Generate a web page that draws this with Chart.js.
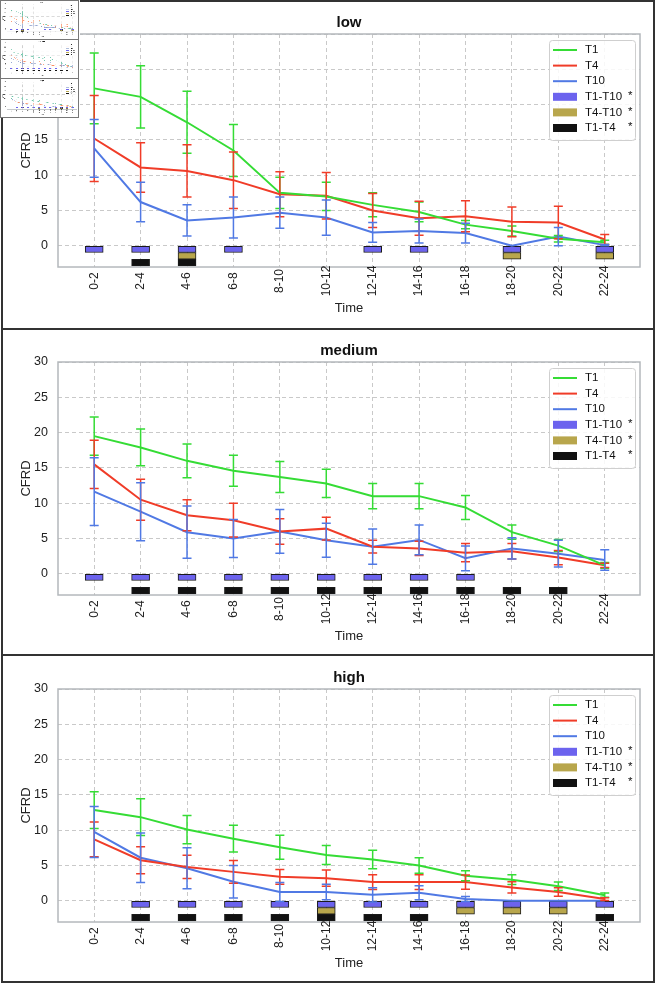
<!DOCTYPE html>
<html>
<head>
<meta charset="utf-8">
<script src="https://cdn.jsdelivr.net/npm/chart.js@4.4.1/dist/chart.umd.min.js"></script>
<style>
  body { margin: 0; background: #fff; }
  #fig { position: relative; width: 658px; height: 985px; overflow: hidden; }
  .frame { position: absolute; left: 1px; top: 0; width: 650px; height: 979px; border: 2px solid #333; }
  .rule { position: absolute; left: 1px; width: 654px; height: 2px; background: #333; }
  canvas.panel { position: absolute; left: 2px; }
  #thumb { position: absolute; left: 0; top: 0; }
  #hidden { position: absolute; left: -3000px; top: 0; }
</style>
</head>
<body>
<div id="fig">
  <canvas class="panel" id="c0" width="651" height="318" style="top:2px"></canvas>
  <canvas class="panel" id="c1" width="651" height="318" style="top:330px"></canvas>
  <canvas class="panel" id="c2" width="651" height="318" style="top:657px"></canvas>
  <div class="frame"></div>
  <div class="rule" style="top:328px"></div>
  <div class="rule" style="top:654px"></div>
  <canvas id="thumb" width="80" height="118"></canvas>
</div>
<div id="hidden">
  <canvas id="h0" width="651" height="318"></canvas>
  <canvas id="h1" width="651" height="318"></canvas>
  <canvas id="h2" width="651" height="318"></canvas>
</div>
<script>
// categories and ticks
var timeLabels = ['0-2', '2-4', '4-6', '6-8', '8-10', '10-12', '12-14', '14-16', '16-18', '18-20', '20-22', '22-24'];
var yTicks = [0, 5, 10, 15, 20, 25, 30];
var seriesNames = ['T1', 'T4', 'T10'];
var sigNames = ['T1-T10', 'T4-T10', 'T1-T4'];

// low
var lowT1 = [22.3, 21.1, 17.5, 13.5, 7.5, 7.0, 5.8, 4.8, 3.0, 2.1, 1.0, 0.5];
var lowT1Err = [5.0, 4.4, 4.4, 3.7, 2.2, 2.0, 1.7, 1.4, 0.6, 0.7, 0.45, 0.3];
var lowT4 = [15.2, 11.1, 10.6, 9.3, 7.3, 7.1, 5.0, 3.9, 4.2, 3.4, 3.3, 0.9];
var lowT4Err = [6.1, 3.5, 3.7, 4.0, 3.2, 3.3, 2.4, 2.4, 2.2, 2.1, 2.3, 0.7];
var lowT10 = [13.8, 6.2, 3.6, 4.0, 4.7, 4.0, 1.9, 2.1, 1.8, 0.0, 1.3, 0.1];
var lowT10Err = [4.1, 2.8, 2.2, 2.9, 2.2, 2.5, 1.4, 1.7, 1.4, 0, 1.3, 0.1];
var lowT1T10 = [1, 1, 1, 1, 0, 0, 1, 1, 0, 1, 0, 1];
var lowT4T10 = [0, 0, 1, 0, 0, 0, 0, 0, 0, 1, 0, 1];
var lowT1T4 = [0, 1, 1, 0, 0, 0, 0, 0, 0, 0, 0, 0];

// medium
var medT1 = [19.5, 17.9, 16.0, 14.6, 13.7, 12.8, 11.0, 11.0, 9.4, 5.9, 4.0, 1.2];
var medT1Err = [2.7, 2.6, 2.4, 2.2, 2.2, 2.0, 1.8, 1.8, 1.7, 1.0, 0.85, 0.4];
var medT4 = [15.5, 10.5, 8.3, 7.6, 6.0, 6.4, 3.85, 3.6, 3.0, 3.2, 2.3, 1.2];
var medT4Err = [3.4, 2.9, 2.2, 2.4, 1.8, 1.6, 0.9, 1.0, 1.3, 1.1, 1.0, 0.3];
var medT10 = [11.65, 8.8, 5.9, 5.0, 6.0, 4.75, 3.85, 4.8, 2.2, 3.6, 2.85, 1.95];
var medT10Err = [4.8, 4.1, 3.7, 2.7, 3.1, 2.4, 2.5, 2.1, 1.75, 1.5, 1.9, 1.45];
var medT1T10 = [1, 1, 1, 1, 1, 1, 1, 1, 1, 0, 0, 0];
var medT4T10 = [0, 0, 0, 0, 0, 0, 0, 0, 0, 0, 0, 0];
var medT1T4 = [0, 1, 1, 1, 1, 1, 1, 1, 1, 1, 1, 0];

// high
var highT1 = [12.85, 11.85, 10.1, 8.8, 7.6, 6.5, 5.85, 5.0, 3.55, 3.0, 2.05, 0.8];
var highT1Err = [2.6, 2.6, 2.0, 1.9, 1.7, 1.35, 1.3, 1.1, 0.7, 0.7, 0.6, 0.3];
var highT4 = [8.7, 5.75, 4.8, 4.1, 3.4, 3.2, 2.65, 2.65, 2.65, 1.9, 1.25, 0.25];
var highT4Err = [2.45, 1.9, 1.65, 1.6, 1.05, 1.15, 1.05, 1.05, 1.0, 0.8, 0.6, 0.2];
var highT10 = [9.75, 6.1, 4.6, 2.7, 1.25, 1.25, 0.85, 1.15, 0.25, 0, 0, 0];
var highT10Err = [3.6, 3.5, 2.9, 2.3, 1.35, 1.1, 1.0, 1.0, 0.35, 0, 0, 0];
var highT1T10 = [0, 1, 1, 1, 1, 1, 1, 1, 1, 1, 1, 1];
var highT4T10 = [0, 0, 0, 0, 0, 1, 0, 0, 1, 1, 1, 0];
var highT1T4 = [0, 1, 1, 1, 1, 1, 1, 1, 0, 0, 0, 1];

var lineColors = ['#35dc35', '#f03c28', '#5079e4'];
var thumbColors = ['#66c2a5', '#fc8d62', '#8da0cb'];
var sigColors = ['#6c63ee', '#b8a64c', '#111111'];
var markerRows = [[-0.95, 0], [-1.9, -0.95], [-2.85, -1.9]];

var panels = [
  { title: 'low', panelTop: 0, panelH: 329, canvasTop: 2,
    means: [lowT1, lowT4, lowT10], errs: [lowT1Err, lowT4Err, lowT10Err], flags: [lowT1T10, lowT4T10, lowT1T4] },
  { title: 'medium', panelTop: 329, panelH: 326, canvasTop: 330,
    means: [medT1, medT4, medT10], errs: [medT1Err, medT4Err, medT10Err], flags: [medT1T10, medT4T10, medT1T4] },
  { title: 'high', panelTop: 655, panelH: 330, canvasTop: 657,
    means: [highT1, highT4, highT10], errs: [highT1Err, highT4Err, highT10Err], flags: [highT1T10, highT4T10, highT1T4] }
];

var FONT = '"Liberation Sans", Arial, sans-serif';
Chart.defaults.font.family = FONT;
Chart.defaults.color = '#222';

var panelDecor = {
  id: 'panelDecor',
  afterDatasetsDraw: function(chart, args, opts) {
    var ctx = chart.ctx, x = chart.scales.x, y = chart.scales.y;
    opts.errs.forEach(function(err, k) {
      var ds = chart.data.datasets[k];
      ctx.save();
      ctx.strokeStyle = ds.borderColor;
      ctx.lineWidth = 1.5;
      err.forEach(function(e, i) {
        if (!e) return;
        var v = ds.data[i].y;
        var px = x.getPixelForValue(i);
        var top = y.getPixelForValue(v + e), bot = y.getPixelForValue(v - e);
        ctx.beginPath();
        ctx.moveTo(px, top); ctx.lineTo(px, bot);
        ctx.moveTo(px - 4.5, top); ctx.lineTo(px + 4.5, top);
        ctx.moveTo(px - 4.5, bot); ctx.lineTo(px + 4.5, bot);
        ctx.stroke();
      });
      ctx.restore();
    });
  },
  afterDraw: function(chart, args, opts) {
    var ctx = chart.ctx, a = chart.chartArea, x = chart.scales.x;
    ctx.save();
    // plot frame
    ctx.strokeStyle = '#b4b8bc';
    ctx.lineWidth = 1.5;
    ctx.strokeRect(a.left, a.top, a.right - a.left, a.bottom - a.top);
    // x tick labels, turned 90 degrees and centred under each tick
    ctx.fillStyle = '#222';
    ctx.font = '12px ' + FONT;
    ctx.textAlign = 'center';
    ctx.textBaseline = 'middle';
    x.ticks.forEach(function(t) {
      ctx.save();
      ctx.translate(x.getPixelForValue(t.value), a.bottom + 14);
      ctx.rotate(-Math.PI / 2);
      ctx.fillText(timeLabels[t.value], 0, 0);
      ctx.restore();
    });
    // title
    ctx.fillStyle = '#111';
    ctx.font = 'bold 15px ' + FONT;
    ctx.fillText(opts.title, (a.left + a.right) / 2, a.top - 11);
    // legend
    var L = a.right - 91, T = a.top + 6;
    ctx.fillStyle = 'rgba(255,255,255,0.85)';
    ctx.strokeStyle = '#cfcfcf';
    ctx.lineWidth = 1;
    ctx.beginPath();
    ctx.roundRect(L + 0.5, T + 0.5, 86, 100, 3);
    ctx.fill();
    ctx.stroke();
    ctx.font = '11.5px ' + FONT;
    ctx.textAlign = 'left';
    var names = seriesNames.concat(sigNames);
    names.forEach(function(name, j) {
      var cy = T + 10 + j * 15.6;
      if (j < 3) {
        ctx.strokeStyle = opts.colors[j];
        ctx.lineWidth = 2;
        ctx.beginPath();
        ctx.moveTo(L + 4, cy); ctx.lineTo(L + 28, cy);
        ctx.stroke();
      } else {
        ctx.fillStyle = sigColors[j - 3];
        ctx.fillRect(L + 4, cy - 4, 24, 8);
      }
      ctx.fillStyle = '#111';
      ctx.fillText(name, L + 36, cy);
      if (j >= 3) ctx.fillText('*', L + 79, cy - 1);
    });
    ctx.restore();
  }
};

function makeChart(canvasId, p, colors) {
  var datasets = [];
  p.means.forEach(function(m, k) {
    datasets.push({
      type: 'line',
      label: seriesNames[k],
      data: m.map(function(v, i) { return { x: i, y: v }; }),
      borderColor: colors[k],
      borderWidth: 2,
      pointRadius: 0,
      tension: 0,
      fill: false,
      order: 1
    });
  });
  p.flags.forEach(function(f, r) {
    var pts = [];
    f.forEach(function(on, i) { if (on) pts.push({ x: i, y: markerRows[r] }); });
    datasets.push({
      type: 'bar',
      label: sigNames[r],
      data: pts,
      backgroundColor: sigColors[r],
      borderColor: '#1a1a1a',
      borderWidth: 1,
      borderSkipped: false,
      barThickness: 18,
      grouped: false,
      order: 2
    });
  });

  return new Chart(document.getElementById(canvasId), {
    type: 'line',
    data: { datasets: datasets },
    options: {
      responsive: false,
      animation: false,
      layout: { padding: { left: 13, right: 13, top: 32, bottom: 0 } },
      plugins: {
        legend: { display: false },
        tooltip: { enabled: false },
        panelDecor: { title: p.title, errs: p.errs, colors: colors }
      },
      scales: {
        x: {
          type: 'linear',
          min: -0.78,
          max: 11.76,
          offset: false,
          afterBuildTicks: function(s) { s.ticks = timeLabels.map(function(_, i) { return { value: i }; }); },
          afterFit: function(s) { s.height = 53; },
          ticks: { display: false },
          grid: { color: '#c9c9c9', drawTicks: false, offset: false },
          border: { display: false, dash: [4, 3] },
          title: { display: true, text: 'Time', font: { size: 13 }, color: '#222', padding: { top: 0, bottom: 4 } }
        },
        y: {
          min: -3,
          max: 30,
          afterBuildTicks: function(s) { s.ticks = yTicks.map(function(v) { return { value: v }; }); },
          afterFit: function(s) { s.width = 43; },
          ticks: { padding: 10, font: { size: 12.5 }, color: '#222' },
          grid: { color: '#c9c9c9', drawTicks: false },
          border: { display: false, dash: [4, 3] },
          title: { display: true, text: 'CFRD', font: { size: 13 }, color: '#222', padding: { top: 4, bottom: 0 } }
        }
      }
    },
    plugins: [panelDecor]
  });
}

var charts = panels.map(function(p, k) { return makeChart('c' + k, p, lineColors); });
var minis = panels.map(function(p, k) { return makeChart('h' + k, p, thumbColors); });

// small preview in the corner, copied from the hidden charts
var t = document.getElementById('thumb').getContext('2d');
t.fillStyle = '#fff';
t.fillRect(0, 0, 80, 118);
var sx = 79 / 658;
panels.forEach(function(p, k) {
  var y0 = k * 39, sy = 39 / p.panelH;
  t.drawImage(minis[k].canvas, 2 * sx, y0 + (p.canvasTop - p.panelTop) * sy, 651 * sx, 318 * sy);
  t.strokeStyle = '#777';
  t.lineWidth = 1;
  t.strokeRect(0.5, y0 + 0.5, 78, 39);
});
</script>
</body>
</html>
